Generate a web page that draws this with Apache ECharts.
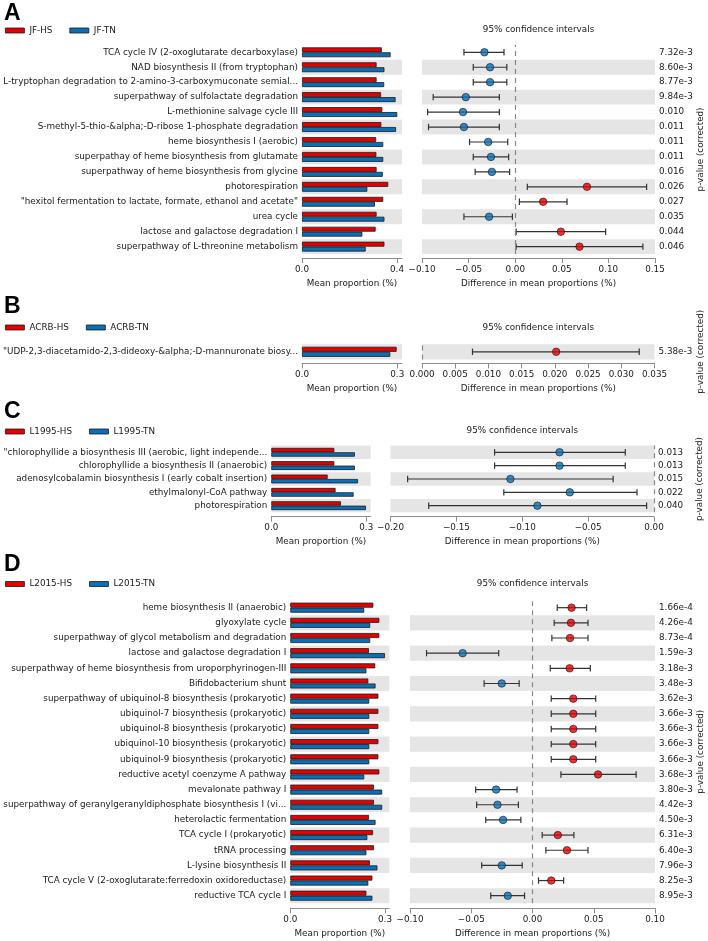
<!DOCTYPE html>
<html>
<head>
<meta charset="utf-8">
<title>Extended error bar plots</title>
<script src="https://cdn.jsdelivr.net/npm/echarts@6/dist/echarts.min.js"></script>
<style>
  html, body { margin: 0; padding: 0; background: #fff; }
  #chart { width: 708px; height: 941px; }
</style>
</head>
<body>
<div id="chart"></div>
<script>
// ---- panel A: JF ----
const aNames = [
  'TCA cycle IV (2-oxoglutarate decarboxylase)',
  'NAD biosynthesis II (from tryptophan)',
  'L-tryptophan degradation to 2-amino-3-carboxymuconate semial...',
  'superpathway of sulfolactate degradation',
  'L-methionine salvage cycle III',
  'S-methyl-5-thio-&alpha;-D-ribose 1-phosphate degradation',
  'heme biosynthesis I (aerobic)',
  'superpathay of heme biosynthesis from glutamate',
  'superpathway of heme biosynthesis from glycine',
  'photorespiration',
  '"hexitol fermentation to lactate, formate, ethanol and acetate"',
  'urea cycle',
  'lactose and galactose degradation I',
  'superpathway of L-threonine metabolism'
];
const aHS = [0.336, 0.314, 0.314, 0.333, 0.338, 0.334, 0.312, 0.313, 0.314, 0.363, 0.342, 0.314, 0.310, 0.347];
const aTN = [0.373, 0.347, 0.346, 0.394, 0.401, 0.396, 0.342, 0.342, 0.340, 0.275, 0.307, 0.347, 0.254, 0.268];
const aDiff = [-0.033, -0.027, -0.027, -0.053, -0.056, -0.055, -0.029, -0.026, -0.025, 0.077, 0.030, -0.028, 0.049, 0.069];
const aLow = [-0.055, -0.045, -0.045, -0.088, -0.094, -0.093, -0.049, -0.045, -0.043, 0.013, 0.0045, -0.055, 0.001, 0.001];
const aHigh = [-0.012, -0.009, -0.009, -0.017, -0.017, -0.017, -0.008, -0.007, -0.006, 0.141, 0.0556, -0.003, 0.097, 0.137];
const aP = ['7.32e-3', '8.60e-3', '8.77e-3', '9.84e-3', '0.010', '0.011', '0.011', '0.011', '0.016', '0.026', '0.027', '0.035', '0.044', '0.046'];

// ---- panel B: ACRB ----
const bNames = ['"UDP-2,3-diacetamido-2,3-dideoxy-&alpha;-D-mannuronate biosy...'];
const bHS = [0.298];
const bTN = [0.278];
const bDiff = [0.0202];
const bLow = [0.0076];
const bHigh = [0.0327];
const bP = ['5.38e-3'];

// ---- panel C: L1995 ----
const cNames = [
  '"chlorophyllide a biosynthesis III (aerobic, light independe...',
  'chlorophyllide a biosynthesis II (anaerobic)',
  'adenosylcobalamin biosynthesis I (early cobalt insertion)',
  'ethylmalonyl-CoA pathway',
  'photorespiration'
];
const cHS = [0.199, 0.199, 0.178, 0.203, 0.220];
const cTN = [0.264, 0.264, 0.274, 0.260, 0.299];
const cDiff = [-0.0717, -0.0717, -0.109, -0.0639, -0.0885];
const cLow = [-0.121, -0.121, -0.187, -0.114, -0.171];
const cHigh = [-0.0218, -0.0218, -0.031, -0.0129, -0.0056];
const cP = ['0.013', '0.013', '0.015', '0.022', '0.040'];

// ---- panel D: L2015 ----
const dNames = [
  'heme biosynthesis II (anaerobic)',
  'glyoxylate cycle',
  'superpathway of glycol metabolism and degradation',
  'lactose and galactose degradation I',
  'superpathway of heme biosynthesis from uroporphyrinogen-III',
  'Bifidobacterium shunt',
  'superpathway of ubiquinol-8 biosynthesis (prokaryotic)',
  'ubiquinol-7 biosynthesis (prokaryotic)',
  'ubiquinol-8 biosynthesis (prokaryotic)',
  'ubiquinol-10 biosynthesis (prokaryotic)',
  'ubiquinol-9 biosynthesis (prokaryotic)',
  'reductive acetyl coenzyme A pathway',
  'mevalonate pathway I',
  'superpathway of geranylgeranyldiphosphate biosynthesis I (vi...',
  'heterolactic fermentation',
  'TCA cycle I (prokaryotic)',
  'tRNA processing',
  'L-lysine biosynthesis II',
  'TCA cycle V (2-oxoglutarate:ferredoxin oxidoreductase)',
  'reductive TCA cycle I'
];
const dHS = [0.263, 0.282, 0.282, 0.249, 0.269, 0.247, 0.279, 0.279, 0.279, 0.279, 0.279, 0.282, 0.265, 0.265, 0.249, 0.262, 0.265, 0.252, 0.260, 0.241];
const dTN = [0.234, 0.253, 0.253, 0.300, 0.241, 0.270, 0.250, 0.250, 0.250, 0.250, 0.250, 0.234, 0.291, 0.291, 0.270, 0.244, 0.241, 0.276, 0.247, 0.260];
const dDiff = [0.0319, 0.0314, 0.0306, -0.057, 0.0303, -0.0251, 0.0333, 0.0333, 0.0333, 0.0333, 0.0333, 0.0535, -0.0297, -0.0286, -0.024, 0.0207, 0.0281, -0.0251, 0.0153, -0.0202];
const dLow = [0.0202, 0.0177, 0.0158, -0.0865, 0.0145, -0.0395, 0.0153, 0.0153, 0.0153, 0.0153, 0.0153, 0.0232, -0.0464, -0.0456, -0.0382, 0.0079, 0.0109, -0.0415, 0.0049, -0.0341];
const dHigh = [0.0442, 0.0453, 0.0453, -0.0276, 0.0472, -0.0109, 0.0516, 0.0516, 0.0516, 0.0516, 0.0516, 0.0846, -0.0126, -0.0115, -0.0095, 0.0338, 0.0453, -0.0084, 0.0254, -0.0065];
const dP = ['1.66e-4', '4.26e-4', '8.73e-4', '1.59e-3', '3.18e-3', '3.48e-3', '3.62e-3', '3.66e-3', '3.66e-3', '3.66e-3', '3.66e-3', '3.68e-3', '3.80e-3', '4.42e-3', '4.50e-3', '6.31e-3', '6.40e-3', '7.96e-3', '8.25e-3', '8.95e-3'];

const RED = '#e60000';
const BLUE = '#0b6fb7';
const BAND = '#e5e5e5';
const TEXT = '#1a1a1a';
const AXIS = '#8c8c8c';
const EDGE = '#1a1a1a';
const FONT = 'DejaVu Sans';
const FS = 8.8;

// layout of each panel (pixels)
const panels = [
  { letter: 'A', groups: ['JF-HS', 'JF-TN'], names: aNames, hs: aHS, tn: aTN, diff: aDiff, low: aLow, high: aHigh, p: aP,
    top: 44.8, rowH: 14.95, offset: 4, letterY: 13.5, legendY: 31, titleY: 30,
    bar: { left: 302, width: 100, max: 0.421, ticks: [0, 0.4] },
    ci: { left: 422, width: 233, min: -0.1, max: 0.15, step: 0.05, dec: 2 } },
  { letter: 'B', groups: ['ACRB-HS', 'ACRB-TN'], names: bNames, hs: bHS, tn: bTN, diff: bDiff, low: bLow, high: bHigh, p: bP,
    top: 344.2, rowH: 15.2, offset: 4, letterY: 306.5, legendY: 328, titleY: 327.3,
    bar: { left: 302, width: 100, max: 0.315, ticks: [0, 0.3] },
    ci: { left: 422, width: 232.5, min: 0, max: 0.035, step: 0.005, dec: 3 } },
  { letter: 'C', groups: ['L1995-HS', 'L1995-TN'], names: cNames, hs: cHS, tn: cTN, diff: cDiff, low: cLow, high: cHigh, p: cP,
    top: 445.6, rowH: 13.35, offset: 4.3, letterY: 411.5, legendY: 432, titleY: 431,
    bar: { left: 271.3, width: 99.4, max: 0.314, ticks: [0, 0.3] },
    ci: { left: 390.5, width: 263.5, min: -0.2, max: 0, step: 0.05, dec: 2 } },
  { letter: 'D', groups: ['L2015-HS', 'L2015-TN'], names: dNames, hs: dHS, tn: dTN, diff: dDiff, low: dLow, high: dHigh, p: dP,
    top: 600.1, rowH: 15.16, offset: 5, letterY: 565, legendY: 584.5, titleY: 584,
    bar: { left: 290.3, width: 99, max: 0.3136, ticks: [0, 0.3] },
    ci: { left: 410, width: 245, min: -0.1, max: 0.1, step: 0.05, dec: 2 } }
];

const txt = { color: TEXT, fontFamily: FONT, fontSize: FS };

function fmtDiff(v, dec) {
  if (Math.abs(v) < 1e-9) return (0).toFixed(dec);
  return (v < 0 ? '\u2212' : '') + Math.abs(v).toFixed(dec);
}

function renderErr(params, api) {
  const y = api.value(2);
  const p1 = api.coord([api.value(0), y]);
  const p2 = api.coord([api.value(1), y]);
  const h = 3.2;
  const st = { stroke: '#333', lineWidth: 1.2 };
  return {
    type: 'group',
    children: [
      { type: 'line', shape: { x1: p1[0], y1: p1[1], x2: p2[0], y2: p2[1] }, style: st },
      { type: 'line', shape: { x1: p1[0], y1: p1[1] - h, x2: p1[0], y2: p1[1] + h }, style: st },
      { type: 'line', shape: { x1: p2[0], y1: p2[1] - h, x2: p2[0], y2: p2[1] + h }, style: st }
    ]
  };
}

const option = {
  animation: false,
  backgroundColor: '#fff',
  grid: [], xAxis: [], yAxis: [], series: [], legend: [], graphic: []
};

panels.forEach((pn, k) => {
  const n = pn.names.length;
  const rev = (a) => a.slice().reverse();
  const h = n * pn.rowH;
  const gi = 2 * k;
  const splitArea = { show: true, areaStyle: { color: [BAND, 'rgba(255,255,255,0)'] } };

  option.grid.push(
    { left: pn.bar.left, top: pn.top, width: pn.bar.width, height: h, containLabel: false, outerBoundsMode: 'none' },
    { left: pn.ci.left, top: pn.top, width: pn.ci.width, height: h, containLabel: false, outerBoundsMode: 'none' }
  );

  option.yAxis.push(
    {
      type: 'category', gridIndex: gi, data: rev(pn.names),
      axisLine: { show: false }, axisTick: { show: false }, splitLine: { show: false }, splitArea,
      axisLabel: Object.assign({ interval: 0, margin: 4 }, txt)
    },
    {
      type: 'category', gridIndex: gi + 1, position: 'right', data: rev(pn.p),
      axisLine: { show: false }, axisTick: { show: false }, splitLine: { show: false }, splitArea,
      axisLabel: Object.assign({ interval: 0, margin: 4 }, txt),
      name: 'p-value (corrected)', nameLocation: 'middle', nameGap: 41, nameTextStyle: txt
    }
  );

  option.xAxis.push(
    {
      type: 'value', gridIndex: gi, min: 0, max: pn.bar.max, offset: pn.offset,
      splitLine: { show: false },
      axisLine: { show: true, lineStyle: { color: AXIS, width: 1 } },
      axisTick: { show: true, inside: false, length: 5, lineStyle: { color: AXIS }, customValues: pn.bar.ticks },
      axisLabel: Object.assign({ customValues: pn.bar.ticks, margin: 7, formatter: (v) => v.toFixed(1) }, txt),
      name: 'Mean proportion (%)', nameLocation: 'middle', nameGap: 21, nameTextStyle: txt
    },
    {
      type: 'value', gridIndex: gi + 1, min: pn.ci.min, max: pn.ci.max, interval: pn.ci.step, offset: pn.offset,
      splitLine: { show: false },
      axisLine: { show: true, lineStyle: { color: AXIS, width: 1 } },
      axisTick: { show: true, inside: false, length: 5, lineStyle: { color: AXIS } },
      axisLabel: Object.assign({ margin: 7, formatter: (v) => fmtDiff(v, pn.ci.dec) }, txt),
      name: 'Difference in mean proportions (%)', nameLocation: 'middle', nameGap: 21, nameTextStyle: txt
    }
  );

  const bw = pn.rowH * 0.33;
  option.series.push(
    {
      type: 'bar', name: pn.groups[0], xAxisIndex: gi, yAxisIndex: gi, data: rev(pn.hs),
      barWidth: bw, barGap: '0%', silent: true,
      itemStyle: { color: RED, borderColor: EDGE, borderWidth: 0.8 }
    },
    {
      type: 'bar', name: pn.groups[1], xAxisIndex: gi, yAxisIndex: gi, data: rev(pn.tn),
      barWidth: bw, barGap: '0%', silent: true,
      itemStyle: { color: BLUE, borderColor: EDGE, borderWidth: 0.8 }
    },
    {
      type: 'custom', xAxisIndex: gi + 1, yAxisIndex: gi + 1, silent: true, clip: false,
      renderItem: renderErr, encode: { x: [0, 1], y: 2 },
      data: pn.low.map((lo, i) => [lo, pn.high[i], n - 1 - i]), z: 3
    },
    {
      type: 'scatter', xAxisIndex: gi + 1, yAxisIndex: gi + 1, silent: true, clip: false,
      symbolSize: 7.5, z: 4,
      data: pn.diff.map((d, i) => [d, n - 1 - i]),
      itemStyle: { color: (p) => (p.value[0] > 0 ? RED : BLUE), borderColor: EDGE, borderWidth: 0.8 },
      markLine: {
        silent: true, symbol: 'none', label: { show: false },
        lineStyle: { color: '#888', type: [5, 4], width: 1.2 },
        data: [{ xAxis: 0 }]
      }
    }
  );

  option.legend.push({
    data: pn.groups, left: 5, top: pn.legendY - 5, orient: 'horizontal', padding: 0,
    itemWidth: 19, itemHeight: 5, itemGap: 17, icon: 'rect', selectedMode: false,
    itemStyle: { borderColor: EDGE, borderWidth: 0.8 },
    textStyle: txt
  });

  option.graphic.push(
    {
      type: 'text', x: 4, y: pn.letterY,
      style: { text: pn.letter, font: 'bold 23px "Liberation Sans"', fill: '#000', align: 'left', verticalAlign: 'middle' }
    },
    {
      type: 'text', x: pn.ci.left + pn.ci.width / 2, y: pn.titleY,
      style: { text: '95% confidence intervals', fontFamily: FONT, fontSize: FS, fill: TEXT, align: 'center', verticalAlign: 'middle' }
    }
  );
});

const chart = echarts.init(document.getElementById('chart'), null, { renderer: 'canvas' });
chart.setOption(option);
</script>
</body>
</html>
